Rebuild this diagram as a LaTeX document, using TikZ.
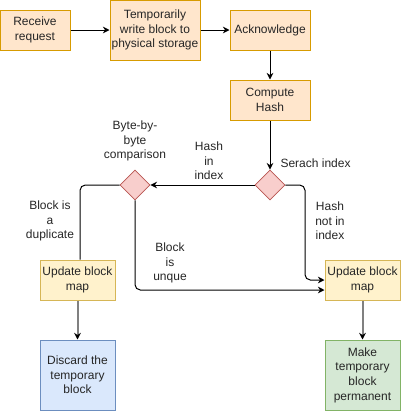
\documentclass[tikz,border=0pt]{standalone}
\usepackage{fontspec}
\setmainfont{Liberation Sans}
\usetikzlibrary{shapes.geometric,arrows.meta}
\definecolor{orfill}{HTML}{FFE6CC}
\definecolor{ordraw}{HTML}{D79B00}
\definecolor{yefill}{HTML}{FFF2CC}
\definecolor{yedraw}{HTML}{D6B656}
\definecolor{blfill}{HTML}{DAE8FC}
\definecolor{bldraw}{HTML}{6C8EBF}
\definecolor{grfill}{HTML}{D5E8D4}
\definecolor{grdraw}{HTML}{82B366}
\definecolor{rdfill}{HTML}{F8CECC}
\definecolor{rddraw}{HTML}{B85450}
\tikzset{
  every node/.style={font=\fontsize{9}{11}\selectfont, text=black!85},
  stepbox/.style={draw=#1, line width=0.75pt, align=center, inner sep=1pt},
  decide/.style={diamond, draw=rddraw, fill=rdfill, line width=0.6pt, minimum size=22.5pt, inner sep=0pt},
  lbl/.style={align=center, inner sep=0pt},
}
\begin{document}
\begin{tikzpicture}[x=0.75pt, y=-0.75pt, >={Stealth[length=5pt,width=5pt]}, line width=0.75pt]
    \useasboundingbox (0,0) rectangle (401,411);
    % top row
    \node[stepbox=ordraw, fill=orfill, minimum width=52.5pt, minimum height=30pt] (recv) at (35,30) {Receive\\request};
    \node[stepbox=ordraw, fill=orfill, minimum width=67.5pt, minimum height=45pt] (temp) at (155,30) {Temporarily\\write block to\\physical storage};
    \node[stepbox=ordraw, fill=orfill, minimum width=60pt, minimum height=30pt] (ack) at (270,30) {Acknowledge};
    \node[stepbox=ordraw, fill=orfill, minimum width=60pt, minimum height=30pt] (hash) at (270,100) {Compute\\Hash};
    % decisions
    \node[decide] (search) at (270,185) {};
    \node[decide] (bytecmp) at (135,185) {};
    % bottom
    \node[stepbox=yedraw, fill=yefill, minimum width=56.25pt, minimum height=30pt] (updL) at (77.5,280) {Update block\\map};
    \node[stepbox=yedraw, fill=yefill, minimum width=56.25pt, minimum height=30pt] (updR) at (362.5,280) {Update block\\map};
    \node[stepbox=bldraw, fill=blfill, minimum width=56.25pt, minimum height=52.5pt] (discard) at (77.5,375) {Discard the\\temporary\\block};
    \node[stepbox=grdraw, fill=grfill, minimum width=56.25pt, minimum height=52.5pt] (perm) at (362.5,375) {Make\\temporary\\block\\permanent};
    % connectors
    \draw[->] (recv) -- (temp);
    \draw[->] (temp) -- (ack);
    \draw[->] (ack) -- (hash);
    \draw[->] (hash) -- (search);
    \draw[->] (search) -- (bytecmp);
    \draw[->, rounded corners=4pt] (search.east) -| (305,280) -- (updR.west);
    \draw[->, rounded corners=4pt] (bytecmp.south) |- ([yshift=-7.5pt]updR.west);
    \draw[rounded corners=4pt] (bytecmp.west) -| ([xshift=1.9pt]updL.north);
    \draw[-{Stealth[length=5pt,width=5pt,color=black]}, draw=gray, line width=1.5pt] (updL) -- (discard);
    \draw[-{Stealth[length=5pt,width=5pt,color=black]}, draw=gray, line width=1.5pt] (updR) -- (perm);
    % labels
    \node[lbl] (lcmp) at (135,141) {Byte-by-\\byte\\comparison};
    \node[lbl] (lin) at (209,161) {Hash\\in\\index};
    \node[lbl, anchor=west] (lsearch) at (280,163) {Serach index};
    \node[lbl] (lnotin) at (330,221) {Hash\\not in\\index};
    \node[lbl] (luniq) at (170,263) {Block\\is\\unque};
    \node[lbl] (ldup) at (50,221) {Block is\\a\\duplicate};
\end{tikzpicture}
\end{document}
